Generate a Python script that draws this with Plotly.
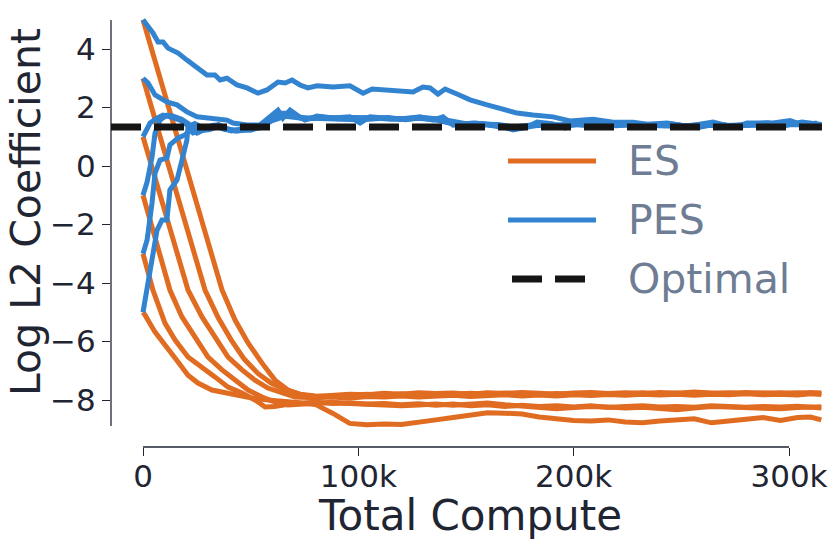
import plotly.graph_objects as go

# ---------------- data (x in thousands of compute units) ----------------
ES_TAIL_X = [80, 88, 96, 104, 112, 120, 128, 136, 144, 152,
             160, 168, 176, 184, 192, 200, 208, 216, 224, 232,
             240, 248, 256, 264, 272, 280, 288, 296, 304, 310, 315]

ES5_HEAD_X = [0, 8, 17, 26, 33, 36.7, 42.7, 48.8, 55.3, 61.3, 67.3, 73.8]
ES5_HEAD_Y = [5.0, 3.0, 0.72, -1.6, -3.35, -4.24, -5.26, -6.05, -6.74, -7.32, -7.66, -7.83]
ES5_TAIL_Y = [-7.88, -7.84, -7.80, -7.82, -7.77, -7.80, -7.75, -7.78, -7.76, -7.80,
              -7.75, -7.78, -7.74, -7.77, -7.80, -7.76, -7.74, -7.78, -7.75, -7.79,
              -7.74, -7.77, -7.73, -7.76, -7.78, -7.74, -7.77, -7.75, -7.78, -7.74, -7.77]

ES3_HEAD_X = [0, 8, 17, 24, 28.8, 35, 41, 47, 53.5, 59.5, 66, 73]
ES3_HEAD_Y = [3.0, 0.98, -1.28, -3.05, -4.24, -5.2, -5.95, -6.6, -7.1, -7.42, -7.65, -7.8]
ES3_TAIL_Y = [-7.86, -7.88, -7.83, -7.80, -7.84, -7.79, -7.82, -7.78, -7.81, -7.77,
              -7.80, -7.76, -7.79, -7.82, -7.78, -7.80, -7.77, -7.80, -7.78, -7.75,
              -7.79, -7.76, -7.80, -7.77, -7.75, -7.78, -7.76, -7.79, -7.75, -7.78, -7.76]

ES1_HEAD_X = [0, 8, 14, 20.9, 27.4, 33.4, 39.5, 46, 52, 58, 64.6, 70.6]
ES1_HEAD_Y = [1.0, -1.0, -2.5, -4.24, -5.16, -5.85, -6.53, -6.97, -7.32, -7.59, -7.76, -7.9]
ES1_TAIL_Y = [-7.92, -7.90, -7.94, -7.88, -7.90, -7.86, -7.90, -7.87, -7.84, -7.88,
              -7.85, -7.82, -7.86, -7.83, -7.86, -7.82, -7.85, -7.81, -7.84, -7.80,
              -7.83, -7.80, -7.84, -7.80, -7.82, -7.79, -7.82, -7.80, -7.83, -7.79, -7.81]

ESM1_HEAD_X = [0, 6, 12.5, 18.1, 24.2, 30.2, 36.7, 42.7, 48.8, 55.3, 61.3, 67.3, 74]
ESM1_HEAD_Y = [-1.0, -2.5, -4.24, -5.16, -5.85, -6.53, -6.97, -7.32, -7.66, -7.9, -8.07, -8.17, -8.15]
ESM1_TAIL_Y = [-8.12, -8.08, -8.12, -8.15, -8.18, -8.20, -8.17, -8.14, -8.18, -8.12,
               -8.10, -8.16, -8.20, -8.26, -8.30, -8.26, -8.22, -8.24, -8.27, -8.25,
               -8.30, -8.33, -8.27, -8.22, -8.24, -8.26, -8.28, -8.30, -8.26, -8.24, -8.27]

ESM3_HEAD_X = [0, 4.6, 10.2, 14.9, 20.9, 27.4, 33.4, 39.5, 46, 52, 56.7, 61, 66, 71, 76]
ESM3_HEAD_Y = [-3.0, -4.24, -5.37, -5.95, -6.53, -6.87, -7.21, -7.56, -7.76, -8.0, -8.24, -8.22, -8.15, -8.1, -8.12]
ESM3_TAIL_Y = [-8.15, -8.45, -8.80, -8.85, -8.82, -8.84, -8.78, -8.68, -8.60, -8.50,
               -8.44, -8.45, -8.48, -8.58, -8.66, -8.70, -8.72, -8.68, -8.75, -8.78,
               -8.72, -8.66, -8.64, -8.78, -8.74, -8.66, -8.60, -8.70, -8.60, -8.58, -8.68]

ESM5_HEAD_X = [0, 0.9, 5.6, 11.6, 16.3, 20.9, 25.5, 32, 38, 42.7, 50, 58, 66, 74]
ESM5_HEAD_Y = [-5.0, -5.09, -5.68, -6.29, -6.70, -7.15, -7.42, -7.66, -7.76, -7.83, -7.92, -8.0, -8.06, -8.1]
ESM5_TAIL_Y = [-8.08, -8.12, -8.10, -8.14, -8.12, -8.16, -8.13, -8.18, -8.14, -8.20,
               -8.16, -8.22, -8.18, -8.22, -8.20, -8.24, -8.20, -8.26, -8.22, -8.20,
               -8.24, -8.22, -8.25, -8.20, -8.22, -8.25, -8.22, -8.24, -8.21, -8.25, -8.23]

PES5 = [(0, 5.0), (4.6, 4.55), (7, 4.24), (9.3, 4.24), (11.6, 4.03), (16.3, 3.86), (20.4, 3.62),
        (25.1, 3.35), (29.7, 3.11), (33.4, 3.11), (35.8, 2.94), (39, 3.0), (43.7, 2.77), (48.3, 2.67),
        (53.4, 2.49), (57.6, 2.6), (62.7, 2.87), (66, 2.84), (69.2, 2.94), (72.9, 2.77), (76.6, 2.67),
        (80.8, 2.74), (88.2, 2.7), (96.1, 2.74), (99.9, 2.6), (102.2, 2.49), (106.4, 2.63), (111.5, 2.6),
        (119.4, 2.56), (125.4, 2.53), (130, 2.7), (133.3, 2.67), (137, 2.46), (140.3, 2.63), (145.8, 2.46),
        (151.9, 2.26), (159.8, 2.09), (167.7, 1.91), (173.7, 1.81), (181.1, 1.74), (190.4, 1.68),
        (198.3, 1.54), (209, 1.6), (218.3, 1.5), (227.6, 1.5), (234, 1.43), (243.4, 1.47), (252.7, 1.36),
        (264.7, 1.5), (274.5, 1.32), (280.5, 1.47), (292.6, 1.47), (300.5, 1.55), (306.5, 1.4), (313, 1.47)]

PES3 = [(0, 3.0), (2.3, 2.84), (5.6, 2.43), (7.9, 2.32), (11.1, 2.19), (15.8, 2.09), (20.4, 1.85),
        (25.1, 1.68), (29.7, 1.64), (34.4, 1.57), (39, 1.57), (41.8, 1.47), (48.3, 1.4), (54.3, 1.4),
        (59, 1.68), (62.7, 1.91), (65, 1.64), (68.3, 1.91), (71.5, 1.74), (75.2, 1.57), (80.8, 1.71),
        (88.2, 1.64), (96.1, 1.68), (100.8, 1.47), (105.4, 1.68), (113.3, 1.64), (119.4, 1.6),
        (128.7, 1.68), (134.7, 1.57), (139.3, 1.68), (144, 1.4), (153.3, 1.47), (164.4, 1.4),
        (171.9, 1.23), (178.4, 1.33), (183, 1.5), (190, 1.45), (196, 1.3), (202, 1.52), (210, 1.45),
        (218, 1.42), (226, 1.48), (234, 1.38), (242, 1.45), (250, 1.4), (258, 1.32), (266, 1.44),
        (274, 1.36), (282, 1.42), (290, 1.48), (298, 1.38), (306, 1.5), (315, 1.42)]

PES1 = [(0, 1.0), (3.3, 1.47), (6.5, 1.64), (9.3, 1.74), (12.5, 1.68), (17.2, 1.57), (21.8, 1.33),
        (25.1, 1.13), (30, 1.3), (35, 1.42), (40, 1.22), (45, 1.25), (50, 1.22), (55, 1.35), (60, 1.6),
        (65, 1.75), (70, 1.72), (76, 1.6), (82, 1.68), (90, 1.62), (98, 1.66), (106, 1.62), (114, 1.66),
        (122, 1.58), (130, 1.66), (138, 1.6), (146, 1.45), (155, 1.44), (165, 1.42), (175, 1.3),
        (185, 1.45), (195, 1.38), (205, 1.48), (215, 1.4), (225, 1.45), (235, 1.4), (245, 1.42),
        (255, 1.35), (265, 1.42), (275, 1.38), (285, 1.45), (295, 1.42), (305, 1.45), (315, 1.4)]

PESM1 = [(0, -1.0), (1.9, -0.55), (4.2, 0.31), (5.6, 1.13), (7.9, 1.57), (11.1, 1.74), (14, 1.7),
         (18, 1.6), (22, 1.4), (26, 1.2), (31, 1.25), (36, 1.38), (41, 1.2), (46, 1.22), (52, 1.28),
         (57, 1.5), (62, 1.8), (67, 1.8), (72, 1.68), (78, 1.62), (85, 1.66), (95, 1.64), (105, 1.66),
         (115, 1.6), (125, 1.64), (135, 1.6), (145, 1.42), (155, 1.46), (165, 1.38), (175, 1.28),
         (185, 1.42), (195, 1.35), (205, 1.45), (215, 1.38), (225, 1.42), (235, 1.36), (245, 1.44),
         (255, 1.33), (265, 1.4), (275, 1.35), (285, 1.43), (295, 1.4), (305, 1.46), (315, 1.42)]

PESM3 = [(0, -3.0), (1.9, -2.53), (4.2, -1.26), (5.6, -0.24), (7.9, 0.2), (11.1, 0.27), (12.5, 0.72),
         (16.3, 0.96), (19.5, 1.06), (21.8, 1.23), (23.2, 1.13), (28, 1.22), (33, 1.35), (38, 1.3),
         (43, 1.2), (48, 1.25), (54, 1.3), (60, 1.55), (66, 1.7), (72, 1.65), (80, 1.62), (90, 1.6),
         (100, 1.58), (110, 1.62), (120, 1.6), (130, 1.62), (140, 1.55), (150, 1.42), (160, 1.4),
         (170, 1.3), (180, 1.38), (190, 1.4), (200, 1.42), (210, 1.36), (220, 1.4), (230, 1.42),
         (240, 1.38), (250, 1.35), (260, 1.4), (270, 1.36), (280, 1.4), (290, 1.38), (300, 1.42), (315, 1.4)]

PESM5 = [(0, -5.0), (2.3, -4.0), (4.6, -2.97), (6.5, -2.2), (8.8, -1.85), (11.1, -1.85), (12.5, -0.82),
         (15.8, -0.48), (18.1, 0.2), (20.4, 0.89), (20.9, 1.33), (24, 1.45), (28, 1.3), (33, 1.4),
         (38, 1.25), (44, 1.2), (50, 1.25), (56, 1.4), (62, 1.7), (68, 1.75), (74, 1.62), (80, 1.65),
         (90, 1.62), (100, 1.6), (110, 1.64), (120, 1.6), (130, 1.64), (140, 1.58), (150, 1.45),
         (160, 1.42), (170, 1.32), (180, 1.4), (190, 1.38), (200, 1.44), (210, 1.4), (220, 1.38),
         (230, 1.44), (240, 1.4), (250, 1.37), (260, 1.42), (270, 1.38), (280, 1.42), (290, 1.4),
         (300, 1.44), (315, 1.41)]

OPTIMAL_Y = 1.33
OPTIMAL_X_END = 315.3

X_TICKS = [0, 100, 200, 300]
X_TICK_LABELS = ["0", "100k", "200k", "300k"]
Y_TICKS = [-8, -6, -4, -2, 0, 2, 4]
Y_TICK_LABELS = ["\u22128", "\u22126", "\u22124", "\u22122", "0", "2", "4"]
LEGEND_NAMES = ["ES", "PES", "Optimal"]
X_TITLE = "Total Compute"
Y_TITLE = "Log L2 Coefficient"

# ---------------- style ----------------
ORANGE = "#E06C22"
BLUE = "#3283D0"
BLACK = "#151515"
INK = "#1F2532"
LEGEND_INK = "#6E7D94"
FONT = "DejaVu Sans"

W, H = 830, 540
ML, MR, MT, MB = 111, 0, 15, 93
PLOT_W = W - ML - MR
PLOT_H = H - MT - MB
PX_PER_K = 646 / 300.0
PX_ZERO_X = 143
PX_PER_Y = 29.25
PX_ZERO_Y = 166
Y_DOMAIN_BOTTOM_PX = 428
Y_AXIS_SPAN = (-8.89, 4.99)

x_range = [(ML - PX_ZERO_X) / PX_PER_K, (W - MR - PX_ZERO_X) / PX_PER_K]
y_range = [(PX_ZERO_Y - Y_DOMAIN_BOTTOM_PX) / PX_PER_Y, (PX_ZERO_Y - MT) / PX_PER_Y]
y_dom0 = (H - MB - Y_DOMAIN_BOTTOM_PX) / PLOT_H


def fx(px):
    return (px - ML) / PLOT_W


def fy(py):
    return (H - MB - py) / PLOT_H


fig = go.Figure()

es_curves = [
    (ES5_HEAD_X, ES5_HEAD_Y, ES5_TAIL_Y),
    (ES3_HEAD_X, ES3_HEAD_Y, ES3_TAIL_Y),
    (ES1_HEAD_X, ES1_HEAD_Y, ES1_TAIL_Y),
    (ESM1_HEAD_X, ESM1_HEAD_Y, ESM1_TAIL_Y),
    (ESM3_HEAD_X, ESM3_HEAD_Y, ESM3_TAIL_Y),
    (ESM5_HEAD_X, ESM5_HEAD_Y, ESM5_TAIL_Y),
]
for hx, hy, ty in es_curves:
    fig.add_trace(go.Scatter(x=hx + ES_TAIL_X, y=hy + ty, mode="lines",
                             line=dict(color=ORANGE, width=5), name=LEGEND_NAMES[0],
                             showlegend=False, hoverinfo="skip"))

for curve in [PES5, PES3, PES1, PESM1, PESM3, PESM5]:
    fig.add_trace(go.Scatter(x=[p[0] for p in curve], y=[p[1] for p in curve], mode="lines",
                             line=dict(color=BLUE, width=5), name=LEGEND_NAMES[1],
                             showlegend=False, hoverinfo="skip"))

fig.add_trace(go.Scatter(x=[x_range[0], OPTIMAL_X_END], y=[OPTIMAL_Y, OPTIMAL_Y], mode="lines",
                         line=dict(color=BLACK, width=7, dash="30px,13px"), name=LEGEND_NAMES[2],
                         showlegend=False, hoverinfo="skip"))

shapes = [
    # trimmed spines
    dict(type="line", xref="paper", yref="y", x0=0, x1=0, y0=Y_AXIS_SPAN[0], y1=Y_AXIS_SPAN[1],
         line=dict(color=INK, width=1.3), layer="below"),
    dict(type="line", xref="x", yref="paper", x0=X_TICKS[0], x1=X_TICKS[-1], y0=0, y1=0,
         line=dict(color=INK, width=1.3), layer="below"),
]
annotations = [
    dict(xref="paper", yref="paper", x=fx(26), y=fy(212), text=Y_TITLE, textangle=-90,
         showarrow=False, xanchor="center", yanchor="middle", borderpad=0,
         font=dict(family=FONT, size=41, color=INK)),
]
legend_rows = [(161, ORANGE, "solid", 5, 508, 596),
               (220, BLUE, "solid", 5, 508, 596),
               (279, BLACK, "30px,13px", 7, 512, 586)]
for name, (py, col, dash, wid, x0, x1) in zip(LEGEND_NAMES, legend_rows):
    shapes.append(dict(type="line", xref="paper", yref="paper", x0=fx(x0), x1=fx(x1),
                       y0=fy(py), y1=fy(py), line=dict(color=col, width=wid, dash=dash)))
    annotations.append(dict(xref="paper", yref="paper", x=fx(626), y=fy(py), text=name,
                            showarrow=False, xanchor="left", yanchor="middle",
                            font=dict(family=FONT, size=41, color=LEGEND_INK)))

fig.update_layout(
    width=W, height=H,
    margin=dict(l=ML, r=MR, t=MT, b=MB, pad=0),
    paper_bgcolor="white", plot_bgcolor="white",
    font=dict(family=FONT, color=INK),
    showlegend=False,
    shapes=shapes,
    annotations=annotations,
    xaxis=dict(range=x_range, domain=[0, 1], anchor="free", position=0,
               showline=False, showgrid=False, zeroline=False,
               ticks="outside", ticklen=8, tickwidth=1.3, tickcolor=INK,
               tickvals=X_TICKS, ticktext=X_TICK_LABELS, ticklabelstandoff=-6,
               tickfont=dict(family=FONT, size=31, color=INK),
               title=dict(text=X_TITLE, font=dict(family=FONT, size=42, color=INK), standoff=0),
               automargin=False),
    yaxis=dict(range=y_range, domain=[y_dom0, 1], anchor="x",
               showline=False, showgrid=False, zeroline=False,
               ticks="outside", ticklen=8, tickwidth=1.3, tickcolor=INK,
               tickvals=Y_TICKS, ticktext=Y_TICK_LABELS,
               tickfont=dict(family=FONT, size=31, color=INK),
               automargin=False),
)

fig.write_html("out.html", config={"displayModeBar": False},
               post_script="document.body.style.margin='0px';document.body.style.overflow='hidden';")
